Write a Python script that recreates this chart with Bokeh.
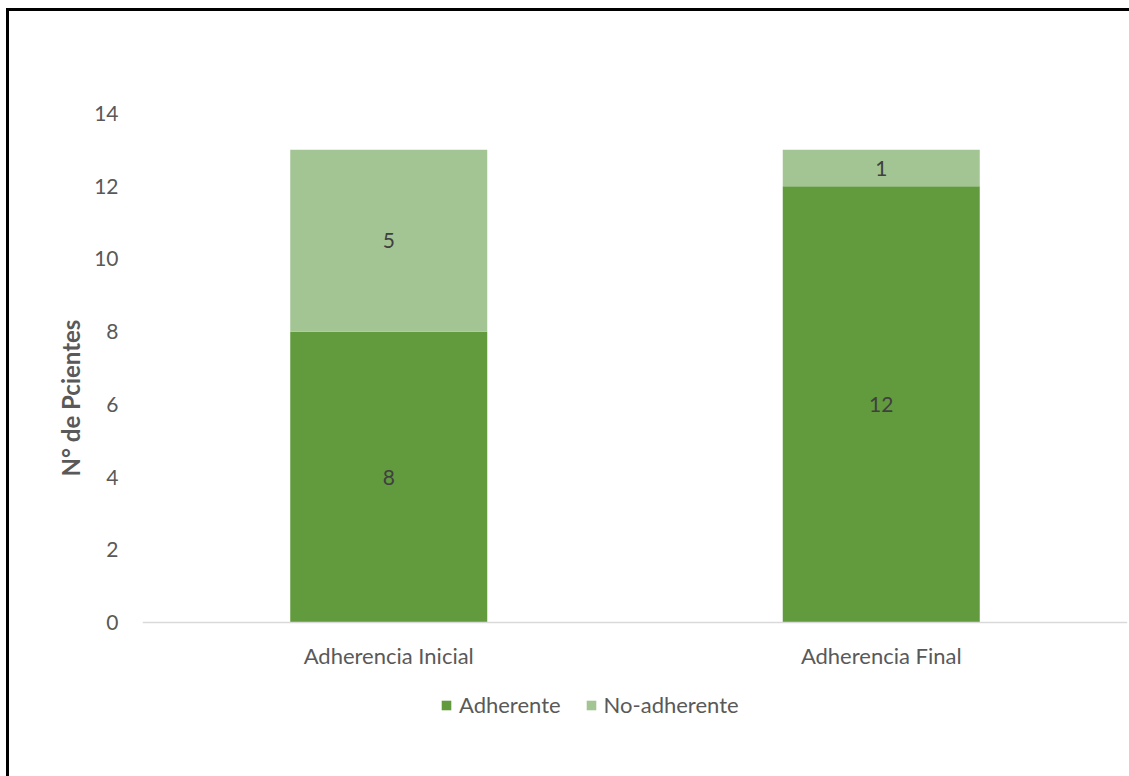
from bokeh.plotting import figure
from bokeh.models import FactorRange, ColumnDataSource, Legend, LegendItem, LabelSet, Range1d, Title
from bokeh.core.properties import value
from bokeh.embed import file_html
from bokeh.resources import INLINE

categories = ["Adherencia Inicial", "Adherencia Final"]
adherente = [8, 12]
no_adherente = [5, 1]
series_names = ["Adherente", "No-adherente"]
y_ticks = [0, 2, 4, 6, 8, 10, 12, 14]
y_title = "N° de Pcientes"

colors = ["#629B3D", "#A3C594"]
FONT = "Lato"

# layout in pixels
W, H = 1129, 776
F_LEFT, F_TOP, F_RIGHT = 142, 113, 1127
ZERO_Y = 622           # pixel row of value 0
F_BOTTOM = 726         # frame extended down to hold the legend
px_per_unit = (ZERO_Y - F_TOP) / 14.0
y_start = -(F_BOTTOM - ZERO_Y) / px_per_unit

src = ColumnDataSource(dict(
    cat=categories,
    adh_top=adherente,
    noadh_bottom=adherente,
    noadh_top=[a + b for a, b in zip(adherente, no_adherente)],
    adh_mid=[a / 2 for a in adherente],
    noadh_mid=[a + b / 2 for a, b in zip(adherente, no_adherente)],
    adh_lbl=[str(v) for v in adherente],
    noadh_lbl=[str(v) for v in no_adherente],
))

p = figure(x_range=FactorRange(*categories, range_padding=0), y_range=Range1d(y_start, 14),
           width=W, height=H, output_backend="svg", toolbar_location=None,
           min_border_left=F_LEFT, min_border_right=W - F_RIGHT, min_border_top=F_TOP,
           min_border_bottom=H - F_BOTTOM)
p.border_fill_color = None
p.background_fill_color = None
p.styles = {
    "background": "linear-gradient(#000,#000) 6px 8px / 3px 100% no-repeat, "
                  "linear-gradient(#000,#000) 6px 8px / 100% 3px no-repeat, #ffffff",
}

r1 = p.vbar(x="cat", top="adh_top", bottom=0, width=0.4, source=src,
            fill_color=colors[0], line_color=None)
r2 = p.vbar(x="cat", top="noadh_top", bottom="noadh_bottom", width=0.4, source=src,
            fill_color=colors[1], line_color=None)

for col, ycol in (("adh_lbl", "adh_mid"), ("noadh_lbl", "noadh_mid")):
    p.add_layout(LabelSet(x="cat", y=ycol, text=col, source=src, text_align="center",
                          text_baseline="middle", text_font=value(FONT), text_font_size="21px",
                          text_color="#404040"))

p.xgrid.visible = False
p.ygrid.visible = False
p.outline_line_color = None

p.yaxis.ticker = y_ticks
p.yaxis.axis_line_color = None
p.yaxis.major_tick_line_color = None
p.yaxis.minor_tick_line_color = None
p.yaxis.major_tick_out = 0
p.yaxis.major_tick_in = 0
p.yaxis.major_label_text_font = FONT
p.yaxis.major_label_text_font_size = "21px"
p.yaxis.major_label_text_color = "#595959"
p.yaxis.major_label_standoff = 24

# y axis title, placed along the 0-14 value span rather than the extended frame
p.add_layout(Title(text=y_title, align="left", offset=250,
                   text_font=FONT, text_font_size="24px", text_font_style="bold",
                   text_color="#595959", standoff=14), "left")

p.xaxis.fixed_location = 0
p.xaxis.axis_line_color = "#D9D9D9"
p.xaxis.axis_line_width = 1.5
p.xaxis.major_tick_line_color = None
p.xaxis.minor_tick_line_color = None
p.xaxis.major_tick_out = 0
p.xaxis.major_tick_in = 0
p.xaxis.major_label_text_font = FONT
p.xaxis.major_label_text_font_size = "22px"
p.xaxis.major_label_text_color = "#595959"
p.xaxis.major_label_standoff = 19

legend = Legend(items=[LegendItem(label=series_names[0], renderers=[r1]),
                       LegendItem(label=series_names[1], renderers=[r2])],
                orientation="horizontal", location=(298, 8),
                label_text_font=FONT, label_text_font_size="22px", label_text_color="#595959",
                glyph_width=12, glyph_height=12, label_standoff=7, spacing=24,
                border_line_color=None, background_fill_alpha=0, padding=0, margin=0)
p.add_layout(legend, "center")

open("out.html", "w").write(file_html(p, INLINE))
